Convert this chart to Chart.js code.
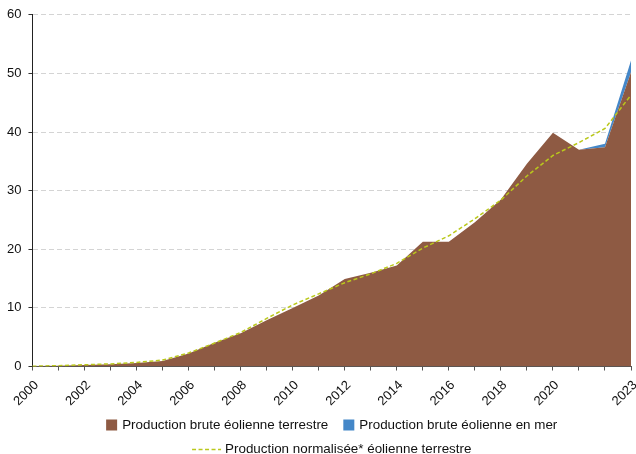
<!DOCTYPE html>
<html>
<head>
<meta charset="utf-8">
<script src="https://cdn.jsdelivr.net/npm/chart.js@4"></script>
<style>
html,body{margin:0;padding:0;background:#fff;}
#wrap{width:636px;height:454px;}
</style>
</head>
<body>
<div id="wrap"><canvas id="c" width="636" height="454"></canvas></div>
<script>
const years = ['2000','2001','2002','2003','2004','2005','2006','2007','2008','2009','2010','2011','2012','2013','2014','2015','2016','2017','2018','2019','2020','2021','2022','2023'];
const terrestre = [0.08,0.13,0.27,0.39,0.6,0.96,2.2,4.05,5.69,7.91,9.97,12.12,14.94,15.99,17.25,21.3,21.3,24.6,28.5,34.6,39.9,37.0,37.4,50.2];
const enMer = [0,0,0,0,0,0,0,0,0,0,0,0,0,0,0,0,0,0,0,0,0,0,0.6,2.0];
const normalisee = [0.05,0.15,0.3,0.45,0.7,1.1,2.3,4.0,5.8,8.2,10.5,12.4,14.3,15.8,17.6,20.2,22.3,25.2,28.4,32.5,36.0,38.2,40.6,46.3];
const shownLabels = ['2000','2002','2004','2006','2008','2010','2012','2014','2016','2018','2020','2023'];
const legendLabels = ['Production brute éolienne terrestre','Production brute éolienne en mer','Production normalisée* éolienne terrestre'];

const BROWN = '#8E5A43';
const BLUE = '#4487C8';
const GREEN = '#BAC81C';
const FONT = '"Liberation Sans", Arial, Helvetica, sans-serif';

const legendPlugin = {
  id: 'customLegend',
  afterDraw(chart) {
    const ctx = chart.ctx;
    const area = chart.chartArea;
    const cx = (area.left + area.right) / 2;
    ctx.save();
    ctx.font = '13.4px ' + FONT;
    ctx.textBaseline = 'middle';
    ctx.fillStyle = '#111';
    const box = 11, gap = 5, itemGap = 15;
    const w0 = ctx.measureText(legendLabels[0]).width;
    const w1 = ctx.measureText(legendLabels[1]).width;
    const row1 = box + gap + w0 + itemGap + box + gap + w1;
    let x = cx - row1 / 2;
    const y1 = 425;
    ctx.fillStyle = BROWN;
    ctx.fillRect(x, y1 - box / 2, box, box);
    ctx.fillStyle = '#111';
    ctx.fillText(legendLabels[0], x + box + gap, y1);
    x += box + gap + w0 + itemGap;
    ctx.fillStyle = BLUE;
    ctx.fillRect(x, y1 - box / 2, box, box);
    ctx.fillStyle = '#111';
    ctx.fillText(legendLabels[1], x + box + gap, y1);
    const lw = 29;
    const w2 = ctx.measureText(legendLabels[2]).width;
    const row2 = lw + 4 + w2;
    x = cx - row2 / 2;
    const y2 = 449;
    ctx.strokeStyle = GREEN;
    ctx.lineWidth = 1.5;
    ctx.setLineDash([4, 2.5]);
    ctx.beginPath();
    ctx.moveTo(x, y2 + 0.5);
    ctx.lineTo(x + lw, y2 + 0.5);
    ctx.stroke();
    ctx.setLineDash([]);
    ctx.fillStyle = '#111';
    ctx.fillText(legendLabels[2], x + lw + 4, y2);
    ctx.restore();
  }
};

new Chart(document.getElementById('c'), {
  type: 'line',
  data: {
    labels: years,
    datasets: [
      {
        label: legendLabels[0],
        data: terrestre,
        backgroundColor: BROWN,
        borderColor: BROWN,
        borderWidth: 0,
        fill: 'origin',
        pointRadius: 0,
        tension: 0,
        stack: 'brut',
        order: 1
      },
      {
        label: legendLabels[1],
        data: enMer,
        backgroundColor: BLUE,
        borderColor: BLUE,
        borderWidth: 0,
        fill: '-1',
        pointRadius: 0,
        tension: 0,
        stack: 'brut',
        order: 2
      },
      {
        label: legendLabels[2],
        data: normalisee,
        borderColor: GREEN,
        borderWidth: 1.5,
        borderDash: [4, 2.5],
        fill: false,
        pointRadius: 0,
        tension: 0,
        stack: 'norm',
        order: 0
      }
    ]
  },
  options: {
    responsive: false,
    animation: false,
    devicePixelRatio: 1,
    layout: { padding: { top: 6, bottom: 38, left: 0, right: 5 } },
    plugins: {
      legend: { display: false },
      tooltip: { enabled: false }
    },
    scales: {
      x: {
        type: 'category',
        offset: false,
        afterFit: (scale) => { scale.paddingRight = 0; },
        grid: {
          drawOnChartArea: false,
          drawTicks: true,
          tickLength: 4,
          tickColor: '#555'
        },
        border: { display: true, color: '#555', width: 1 },
        ticks: {
          autoSkip: false,
          maxRotation: 45,
          minRotation: 45,
          padding: 7,
          labelOffset: 4,
          color: '#111',
          font: { size: 13, family: FONT },
          callback: function(value) {
            const lab = this.getLabelForValue(value);
            return shownLabels.includes(lab) ? lab : '';
          }
        }
      },
      y: {
        stacked: true,
        min: 0,
        max: 60,
        ticks: {
          stepSize: 10,
          padding: 7,
          color: '#111',
          font: { size: 13, family: FONT }
        },
        grid: {
          color: '#d4d4d4',
          lineWidth: 1,
          tickBorderDash: [],
          tickColor: '#333',
          tickLength: 4
        },
        border: { display: true, color: '#222', width: 1, dash: [5, 3] }
      }
    }
  },
  plugins: [legendPlugin]
});
</script>
</body>
</html>
